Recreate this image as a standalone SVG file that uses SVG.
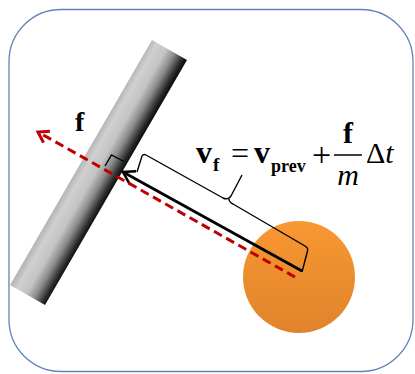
<svg xmlns="http://www.w3.org/2000/svg" width="415" height="374" viewBox="0 0 415 374">
<defs>
<style>
.eq{font-family:"Liberation Serif","Times New Roman",serif;fill:#000}
.b{font-weight:bold}
.i{font-style:italic}
.thin{fill:none;stroke:#000;stroke-width:1.4;stroke-linejoin:miter}
</style>
<linearGradient id="wallG" gradientUnits="userSpaceOnUse" x1="152" y1="40" x2="187" y2="60">
<stop offset="0" stop-color="#b8b8b8"/>
<stop offset="0.15" stop-color="#d0d0d0"/>
<stop offset="0.42" stop-color="#c4c4c4"/>
<stop offset="0.65" stop-color="#8a8a8a"/>
<stop offset="0.88" stop-color="#2a2a2a"/>
<stop offset="1" stop-color="#080808"/>
</linearGradient>
<linearGradient id="ballG" x1="0" y1="0" x2="0" y2="1">
<stop offset="0" stop-color="#f89832"/>
<stop offset="1" stop-color="#e0832b"/>
</linearGradient>
<marker id="ahB" markerUnits="userSpaceOnUse" viewBox="-16 -10 20 20" markerWidth="20" markerHeight="20" refX="0" refY="0" orient="auto" overflow="visible">
<path d="M-11,-7 L0,0 L-11,7" fill="none" stroke="#000" stroke-width="2.6"/>
</marker>
<marker id="ahR" markerUnits="userSpaceOnUse" viewBox="-16 -10 20 20" markerWidth="20" markerHeight="20" refX="0" refY="0" orient="auto" overflow="visible">
<path d="M-10,-6.5 L0,0 L-10,6.5" fill="none" stroke="#c00000" stroke-width="3"/>
</marker>
</defs>
<rect x="9" y="9.5" width="404" height="362" rx="52" ry="52" fill="#fff" stroke="#5f84bb" stroke-width="1.3"/>
<g id="wall">
<polygon points="152,40 187,60 45,305 10,285" fill="url(#wallG)"/>
</g>
<g id="ball">
<circle cx="299" cy="277" r="56" fill="url(#ballG)"/>
</g>
<g id="connectors">
<path class="thin" d="M105,166 L111.5,155 L124,161.5"/>
<line x1="302" y1="271" x2="123" y2="172" stroke="#000" stroke-width="2.8" marker-end="url(#ahB)"/>
<line x1="295" y1="277" x2="38" y2="132" stroke="#c00000" stroke-width="3" stroke-dasharray="9,5" marker-end="url(#ahR)"/>
<path class="thin" d="M137,172 L142,156 Q143.5,153.5 146,155 L223,198 Q228,200.5 231,196 L242,175 M229,199 Q229,202 233,204 L305,246 Q308.5,248 307.5,251 L302,272"/>
</g>
<g id="label-f">
<text class="eq b" x="75" y="131" font-size="28">f</text>
</g>
<g id="equation">
<text class="eq b" x="196" y="163" font-size="32">v</text>
<text class="eq b" x="213" y="171" font-size="19">f</text>
<text class="eq" x="231" y="164" font-size="32">=</text>
<text class="eq b" x="254" y="163" font-size="32">v</text>
<text class="eq b" x="271" y="172" font-size="18">prev</text>
<text class="eq" x="312" y="166" font-size="34">+</text>
<line x1="334" y1="155" x2="362" y2="155" stroke="#000" stroke-width="1.5"/>
<text class="eq b" x="348" y="143" font-size="30" text-anchor="middle">f</text>
<text class="eq i" x="348" y="185" font-size="30" text-anchor="middle">m</text>
<text class="eq" x="366" y="163" font-size="30">Δ<tspan class="i">t</tspan></text>
</g>
</svg>
